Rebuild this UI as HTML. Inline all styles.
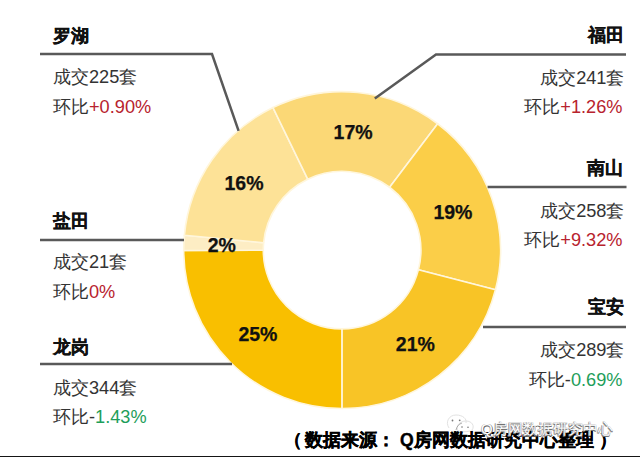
<!DOCTYPE html>
<html><head><meta charset="utf-8">
<style>
html,body{margin:0;padding:0;background:#fff;width:640px;height:457px;overflow:hidden}
body{position:relative;font-family:"Liberation Sans",sans-serif}
svg{position:absolute;left:0;top:0}
.t{position:absolute;white-space:nowrap;line-height:1;color:#333}
.h{font-weight:bold;font-size:17.6px;color:#111;-webkit-text-stroke:0.35px #111}
.b{font-size:18.2px}
.red{color:#B8232E}
.grn{color:#1E9E5A}
.p{position:absolute;white-space:nowrap;line-height:1;font-weight:bold;font-size:19.5px;color:#111;-webkit-text-stroke:0.25px #111}
.f{position:absolute;white-space:nowrap;line-height:1;font-weight:bold;font-size:17.6px;color:#000;-webkit-text-stroke:0.4px #000}
.wm{position:absolute;white-space:nowrap;line-height:1;font-size:15px;color:#fff;text-shadow:0.8px 0.8px 0 #666,-0.5px -0.5px 0 #aaa,0.8px -0.5px 0 #999,-0.5px 0.8px 0 #999}
</style></head><body>
<svg width="640" height="457" viewBox="0 0 640 457">
 <g stroke="#FFF6DC" stroke-width="1.6" stroke-linejoin="round">
  <path fill="#F9BF00" d="M342.10 408.50 A158.4 158.4 0 0 1 183.70 250.46 L263.30 250.28 A78.8 78.8 0 0 0 342.10 328.90 Z"/>
  <path fill="#FDEDC4" d="M183.70 250.46 A158.4 158.4 0 0 1 184.39 235.32 L263.64 242.75 A78.8 78.8 0 0 0 263.30 250.28 Z"/>
  <path fill="#FDE297" d="M184.39 235.32 A158.4 158.4 0 0 1 273.00 107.57 L307.73 179.19 A78.8 78.8 0 0 0 263.64 242.75 Z"/>
  <path fill="#FBD876" d="M273.00 107.57 A158.4 158.4 0 0 1 437.64 123.76 L389.63 187.25 A78.8 78.8 0 0 0 307.73 179.19 Z"/>
  <path fill="#FBCE48" d="M437.64 123.76 A158.4 158.4 0 0 1 495.46 289.76 L418.39 269.83 A78.8 78.8 0 0 0 389.63 187.25 Z"/>
  <path fill="#F8C426" d="M495.46 289.76 A158.4 158.4 0 0 1 342.10 408.50 L342.10 328.90 A78.8 78.8 0 0 0 418.39 269.83 Z"/>
 </g>
 <g stroke="#595959" stroke-width="2.5" fill="none" stroke-linejoin="miter">
  <polyline points="40,54 212,54 238.6,130.8"/>
  <polyline points="374.8,98.6 436,54.5 626,54.5"/>
  <polyline points="487.6,186.9 626.5,186.9"/>
  <polyline points="40,240 184,240"/>
  <polyline points="483,327 626,327"/>
  <polyline points="40,364 232,364"/>
 </g>
</svg>
<div class="t h" style="left:53px;top:27.6px">罗湖</div>
<div class="t b" style="left:53px;top:68.2px">成交225套</div>
<div class="t b" style="left:53px;top:97.6px">环比<span class="red">+0.90%</span></div>
<div class="t h" style="left:53px;top:213.4px">盐田</div>
<div class="t b" style="left:53px;top:253px">成交21套</div>
<div class="t b" style="left:53px;top:283.3px">环比<span class="red">0%</span></div>
<div class="t h" style="left:53px;top:338.7px">龙岗</div>
<div class="t b" style="left:53px;top:379.1px">成交344套</div>
<div class="t b" style="left:53px;top:407.7px">环比-<span class="grn">1.43%</span></div>
<div class="t h r" style="right:16px;top:27.4px">福田</div>
<div class="t b r" style="right:15.5px;top:68.75px">成交241套</div>
<div class="t b r" style="right:17.5px;top:97.9px">环比<span class="red">+1.26%</span></div>
<div class="t h r" style="right:17px;top:159.55px">南山</div>
<div class="t b r" style="right:15.5px;top:201.75px">成交258套</div>
<div class="t b r" style="right:17.5px;top:230.9px">环比<span class="red">+9.32%</span></div>
<div class="t h r" style="right:16.2px;top:299px">宝安</div>
<div class="t b r" style="right:15.5px;top:341.25px">成交289套</div>
<div class="t b r" style="right:17.5px;top:370.9px">环比-<span class="grn">0.69%</span></div>
<div class="p" style="left:333.6px;top:123.2px">17%</div>
<div class="p" style="left:224.5px;top:173.5px">16%</div>
<div class="p" style="left:207.7px;top:236.2px">2%</div>
<div class="p" style="left:238.4px;top:325.3px">25%</div>
<div class="p" style="left:433.4px;top:203.3px">19%</div>
<div class="p" style="left:395.8px;top:335.3px">21%</div>
<svg width="640" height="457" viewBox="0 0 640 457" style="position:absolute;left:0;top:0">
 <g fill="none" stroke="#e2e2e2" stroke-width="1">
  <path d="M449 428 C445 422 449 415 456 415 C463 415 467 419 466 423"/>
  <path d="M458 431 C455 426 460 421 466 421 C472 421 475 426 472 430 L473 433 L470 431 C466 432 461 432 458 431Z"/>
 </g>
 <g fill="#777">
  <circle cx="452.5" cy="420.5" r="0.9"/><circle cx="459.7" cy="420.3" r="0.9"/>
  <circle cx="462" cy="427" r="0.8"/><circle cx="468" cy="427.3" r="0.8"/>
 </g>
 <path d="M462 423 C459 424 457 426 456 430" stroke="#999" stroke-width="0.8" fill="none"/>
</svg>
<div class="f" style="left:283.5px;top:432px">（</div>
<div class="f" style="left:305px;top:432px">数据来源：</div>
<div class="f" style="left:400px;top:432px">Q房网数据研究中心整理</div>
<div class="f" style="left:599px;top:432px">）</div>
<div class="wm" style="left:481px;top:421px">Q房网数据研究中心</div>
<div style="position:absolute;left:0;top:456px;width:640px;height:1px;background:#151515"></div>
</body></html>
